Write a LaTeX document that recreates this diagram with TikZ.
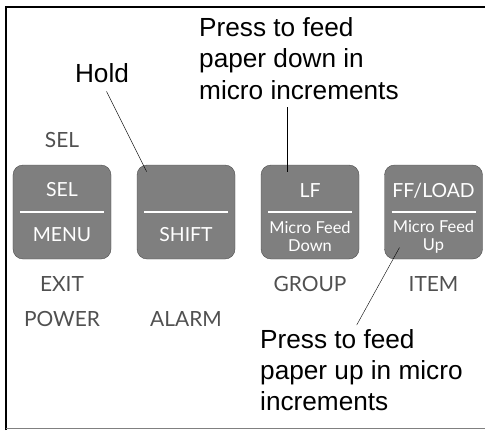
\documentclass[tikz,border=0pt]{standalone}
\usepackage{fontspec}
\setmainfont{Liberation Sans}
\newfontfamily\keyfont{Lato}
\usetikzlibrary{positioning}
\definecolor{keygray}{HTML}{7F7F7F}
\definecolor{keyedge}{HTML}{4D4D4D}
\definecolor{labelgray}{HTML}{505050}

\begin{document}
\begin{tikzpicture}[
    x=1bp, y=-1bp,
    key/.style={draw=keyedge, fill=keygray, rounded corners=10bp, minimum width=98bp, minimum height=94bp, inner sep=0pt},
    keytext/.style={text=white, font=\keyfont\fontsize{19.5}{22}\selectfont, inner sep=0pt},
    keysmall/.style={text=white, font=\keyfont\fontsize{16.5}{18}\selectfont, align=center, inner sep=0pt},
    keylabel/.style={text=labelgray, font=\keyfont\fontsize{21}{24}\selectfont, inner sep=0pt},
    note/.style={font=\fontsize{26.3}{31.3}\selectfont, align=left, inner sep=0pt},
    leader/.style={thin, black}
]
\useasboundingbox (0,0) rectangle (485,430);

% Frame
\draw[line width=2.4bp] (6.2,430) -- (6.2,6.8) -- (485,6.8);
\draw[gray, line width=1.2bp] (6.2,428.6) -- (485,428.6);

% Keys
\node[key] (sel) at (62,212) {};
\node[key] (shift) at (186,212) {};
\node[key] (lf) at (310,212) {};
\node[key] (ff) at (433.5,212) {};

\foreach \k in {sel,shift,lf,ff}
  \draw[white, line width=1.2bp] ([xshift=-42bp]\k.center) -- ([xshift=42bp]\k.center);

% Key texts
\node[keytext] at ([yshift=22bp]sel.center) {SEL};
\node[keytext] at ([yshift=-23bp]sel.center) {MENU};
\node[keytext] at ([yshift=-23bp]shift.center) {SHIFT};
\node[keytext] at ([yshift=21.3bp]lf.center) {LF};
\node[keytext] at ([yshift=21.3bp]ff.center) {FF/LOAD};
\node[keysmall] at ([yshift=-24.7bp]lf.center) {Micro Feed\\Down};
\node[keysmall] at ([yshift=-24.7bp]ff.center) {Micro Feed\\Up};

% Labels
\node[keylabel] (seltop) [above=16.5bp of sel] {SEL};
\node[keylabel] (exit) [below=17bp of sel] {EXIT};
\node[keylabel] (power) [below=20bp of exit] {POWER};
\node[keylabel] (alarm) [below=52bp of shift] {ALARM};
\node[keylabel] (group) [below=17bp of lf] {GROUP};
\node[keylabel] (item) [below=17bp of ff] {ITEM};

% Notes
\node[note, anchor=base] (hold) at (102,82) {Hold};
\node[note, anchor=north west] (downnote) at (199,17.5) {Press to feed\\paper down in\\micro increments};
\node[note, anchor=north west] (upnote) at (260,329.3) {Press to feed\\paper up in micro\\increments};

% Leaders
\coordinate (holdtip) at (146.7,171.7);
\coordinate (downtip) at (287,172);
\coordinate (uptip) at (399.5,247.5);
\coordinate (upend) at (356.7,325);
\draw[leader, shorten <=10bp] (hold.south) -- (holdtip);
\draw[leader, shorten <=7.5bp] (downtip |- downnote.south) -- (downtip);
\draw[leader] (uptip) -- (upend);

\end{tikzpicture}
\end{document}
